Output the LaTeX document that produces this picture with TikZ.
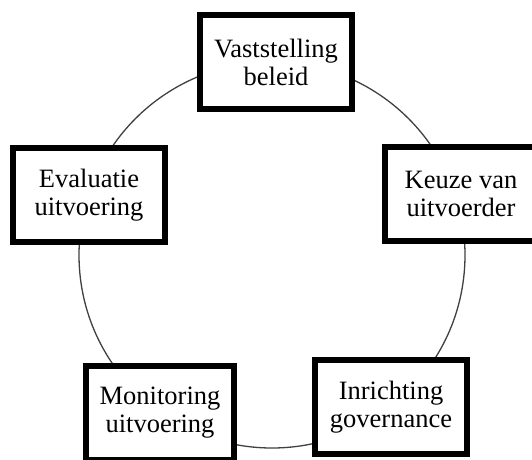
\documentclass[tikz,border=0pt]{standalone}
\usepackage{fontspec}
\setmainfont{Liberation Serif}
\begin{document}
\begin{tikzpicture}[x=1pt,y=1pt,
  stage/.style={draw=black, line width=6pt, fill=white, align=center,
    minimum width=152pt, minimum height=94pt, inner sep=0pt,
    font=\fontsize{26.5}{28}\selectfont}]
\useasboundingbox (0,0) rectangle (532,-459);
\clip (0,0) rectangle (532,-459);
\draw[line width=1.3pt, black!75] (272,-255) circle (193);
\node[stage] (vast) at (276,-62) {Vaststelling\\beleid};
\node[stage] (keuze) at (461,-194) {Keuze van\\uitvoerder};
\node[stage] (inr) at (391,-407) {Inrichting\\governance};
\node[stage, minimum width=148pt] (mon) at (160,-413) {Monitoring\\uitvoering};
\node[stage] (eval) at (89,-195) {Evaluatie\\uitvoering};
\end{tikzpicture}
\end{document}
